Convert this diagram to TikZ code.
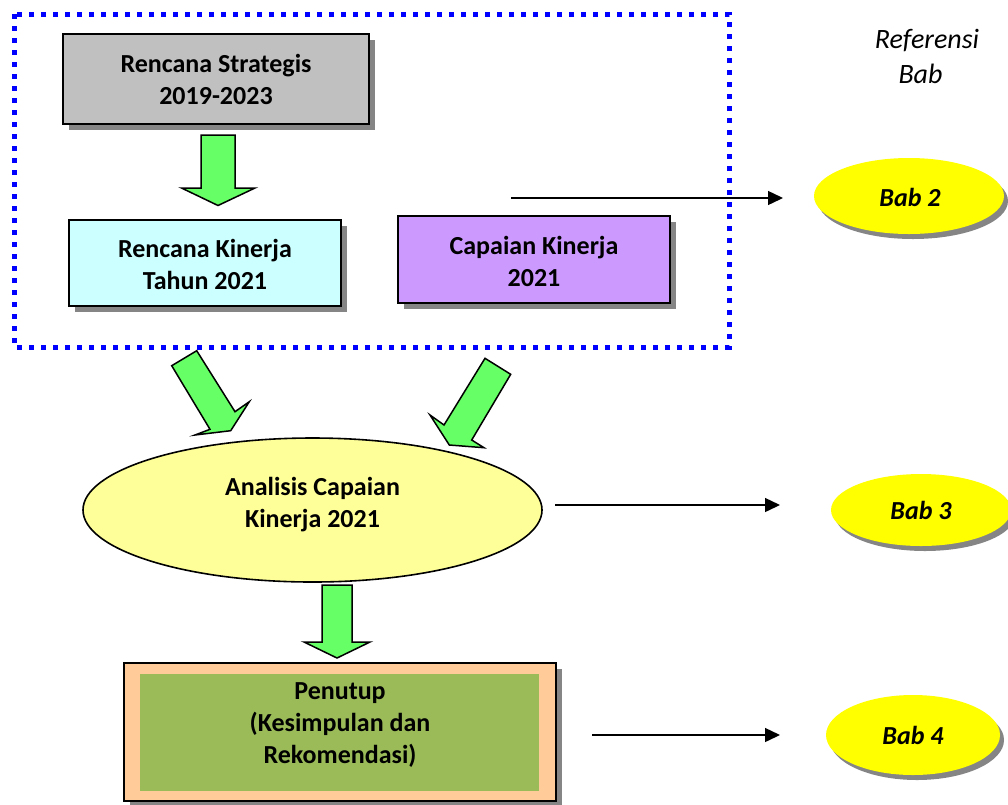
\documentclass[tikz,border=0pt]{standalone}
\usepackage{fontspec}
\setmainfont{Carlito}
\usetikzlibrary{shapes.geometric,arrows.meta}
\definecolor{dotblue}{HTML}{0000FF}
\definecolor{rsgray}{HTML}{C0C0C0}
\definecolor{rkcyan}{HTML}{CCFFFF}
\definecolor{ckviolet}{HTML}{CC99FF}
\definecolor{anyellow}{HTML}{FFFF99}
\definecolor{babyellow}{HTML}{FFFF00}
\definecolor{peach}{HTML}{FFCC99}
\definecolor{olive}{HTML}{9BBB59}
\definecolor{arrgreen}{HTML}{66FF66}
\definecolor{shadowgray}{HTML}{858585}
\tikzset{
  txt/.style={font=\fontsize{26}{32}\selectfont\bfseries, align=center, inner sep=0pt},
  boxnode/.style={draw=black, line width=1.6pt, rectangle, inner sep=0pt},
  boxshadow/.style={fill=shadowgray, draw=none, rectangle, inner sep=0pt},
  babnode/.style={ellipse, fill=babyellow, draw=none, inner sep=0pt,
     font=\fontsize{26}{32}\selectfont\bfseries\itshape},
  babshadow/.style={ellipse, fill=shadowgray, draw=none, inner sep=0pt},
  blockarrow/.style={fill=arrgreen, draw=black, line width=1.5pt, line join=miter},
  refline/.style={line width=1.4pt, -{Triangle[length=15pt,width=14pt]}},
  reftxt/.style={inner sep=0pt, font=\fontsize{28}{33}\selectfont\itshape},
}
\begin{document}
\begin{tikzpicture}[x=1pt,y=-1pt]
\useasboundingbox (0,0) rectangle (1008,804);

% dotted frame
\draw[dotblue, line width=5pt, dash pattern=on 5pt off 7pt] (14,14) rectangle (729,347);

% Rencana Strategis
\node[boxshadow, minimum width=306pt, minimum height=90pt] at (222,85) {};
\node[boxnode, fill=rsgray, minimum width=306pt, minimum height=90pt] (rs) at (216,79) {};
\node[txt] (rst) at (216,79) {Rencana Strategis\\2019-2023};

% Rencana Kinerja
\node[boxshadow, minimum width=272pt, minimum height=86pt] at (211,269) {};
\node[boxnode, fill=rkcyan, minimum width=272pt, minimum height=86pt] (rk) at (205,263) {};
\node[txt] (rkt) at (205,264) {Rencana Kinerja\\Tahun 2021};

% Capaian Kinerja
\node[boxshadow, minimum width=272pt, minimum height=87pt] at (540,265.5) {};
\node[boxnode, fill=ckviolet, minimum width=272pt, minimum height=87pt] (ck) at (534,259.5) {};
\node[txt] (ckt) at (534,261) {Capaian Kinerja\\2021};

% Analisis
\node[ellipse, draw=black, line width=1.6pt, fill=anyellow, minimum width=459pt, minimum height=144pt, inner sep=0pt] (an) at (312.5,510) {};
\node[txt] (ant) at (312.5,505) {Analisis Capaian\\Kinerja 2021};

% Penutup
\node[boxshadow, minimum width=432pt, minimum height=138pt] at (346,738) {};
\node[boxnode, fill=peach, minimum width=432pt, minimum height=138pt] (pen) at (340,732) {};
\node[rectangle, fill=olive, draw=none, minimum width=399pt, minimum height=117pt, inner sep=0pt] (peni) at (339.5,732.5) {};
\node[txt] (pent) at (340,725) {Penutup\\(Kesimpulan dan\\Rekomendasi)};

% Bab ellipses
\node[babshadow, minimum width=190pt, minimum height=76pt] at (913,201) {};
\node[babnode, minimum width=190pt, minimum height=76pt] (bab2) at (909,196) {};
\node[txt, font=\fontsize{26}{32}\selectfont\bfseries\itshape] at (910,197) {Bab 2};

\node[babshadow, minimum width=180pt, minimum height=72pt] at (925,515) {};
\node[babnode, minimum width=180pt, minimum height=72pt] (bab3) at (921,510) {};
\node[txt, font=\fontsize{26}{32}\selectfont\bfseries\itshape] at (921,510) {Bab 3};

\node[babshadow, minimum width=174pt, minimum height=80pt] at (917,740) {};
\node[babnode, minimum width=174pt, minimum height=80pt] (bab4) at (913,735) {};
\node[txt, font=\fontsize{26}{32}\selectfont\bfseries\itshape] at (913,735) {Bab 4};

% Referensi Bab
\node[reftxt] (ref1) at (927,41) {Referensi};
\node[reftxt] (ref2) at (920.5,74) {Bab};

% reference lines
\coordinate (l2a) at (511,198); \coordinate (l2b) at (783,198);
\coordinate (l3a) at (555,505); \coordinate (l3b) at (780,505);
\coordinate (l4a) at (592,735); \coordinate (l4b) at (780,735);
\draw[refline] (l2a) -- (l2b);
\draw[refline] (l3a) -- (l3b);
\draw[refline] (l4a) -- (l4b);

% block arrows
\draw[blockarrow] (201,135) -- (235,135) -- (235,188) -- (255,188) -- (218,205.5) -- (181.5,188) -- (201,188) -- cycle;
\draw[blockarrow] (322,585) -- (352,585) -- (352,642) -- (370,642) -- (337,658) -- (304,642) -- (322,642) -- cycle;
\draw[blockarrow] (171.7,365.7) -- (196.7,350.7) -- (235,411.7) -- (249.3,401.7) -- (230.7,430.7) -- (195,435) -- (210,429.3) -- cycle;
\draw[blockarrow] (485,358.3) -- (510.7,374.3) -- (471.7,440) -- (484,447.7) -- (449.3,445) -- (430,415) -- (444,425) -- cycle;
\end{tikzpicture}
\end{document}
